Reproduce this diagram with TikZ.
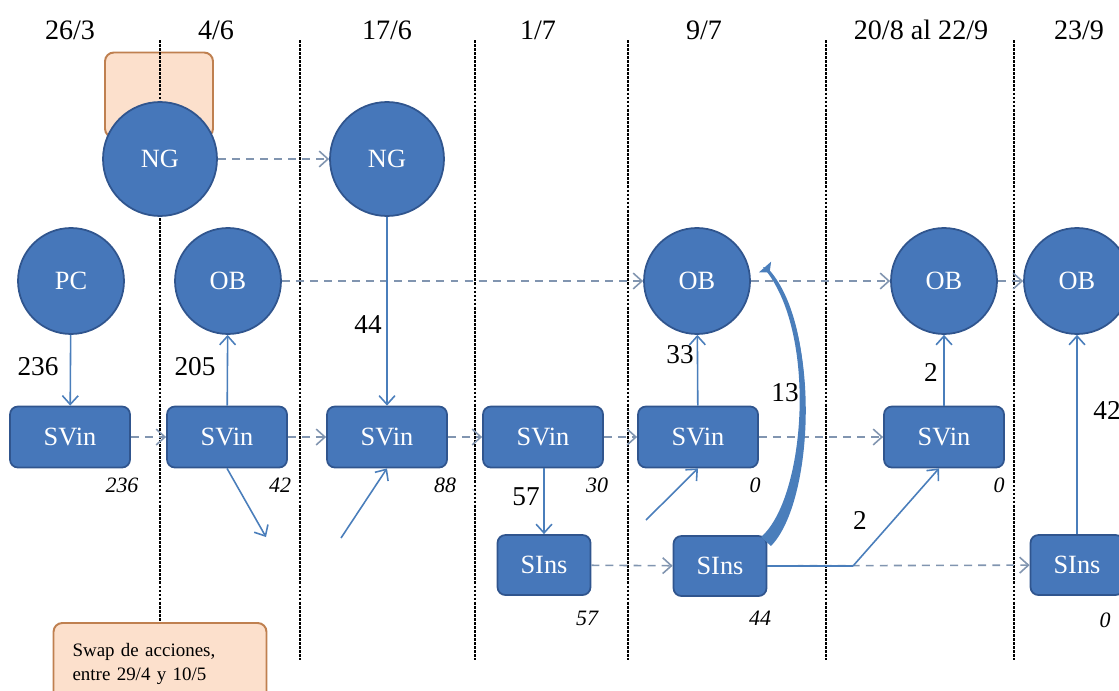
\documentclass[tikz,border=0pt]{standalone}
\usepackage{fontspec}
\setmainfont{Liberation Serif}
\usetikzlibrary{arrows.meta,calc}
\definecolor{nblue}{HTML}{4677BA}
\definecolor{nborder}{HTML}{30558E}
\definecolor{conn}{HTML}{4A7EBB}
\definecolor{dconn}{HTML}{8195B0}
\definecolor{peach}{HTML}{FCE0CC}
\definecolor{peachb}{HTML}{BF8050}
\begin{document}
\begin{tikzpicture}[x=0.02cm,y=-0.02cm,
 circ/.style={circle, fill=nblue, draw=nborder, line width=1pt, minimum size=2.12cm, inner sep=0pt, text=white, font=\fontsize{15}{18}\selectfont},
 bigcirc/.style={circ, minimum size=2.28cm},
 boxn/.style={rectangle, rounded corners=4.5pt, fill=nblue, draw=nborder, line width=1pt, minimum width=2.4cm, minimum height=1.22cm, inner sep=0pt, text=white, font=\fontsize{15}{18}\selectfont},
 sbox/.style={boxn, minimum width=1.86cm, minimum height=1.2cm},
 flow/.style={draw=conn, line width=0.9pt, -{Straight Barb[length=5pt,width=9pt]}},
 dflow/.style={draw=dconn, line width=0.9pt, dash pattern=on 4.5pt off 3.5pt, -{Straight Barb[length=5pt,width=9pt]}},
 sepline/.style={draw=black, line width=0.9pt, dash pattern=on 1.6pt off 0.7pt},
 datelab/.style={font=\fontsize{16}{19}\selectfont},
 lab/.style={font=\fontsize{15.5}{18}\selectfont},
 qty/.style={font=\fontsize{12.5}{15}\selectfont\itshape},
 note/.style={rounded corners=5pt, fill=peach, draw=peachb, line width=1.1pt}
]
\useasboundingbox (0,0) rectangle (1119,690);

% orange note behind NG
\node[note, minimum width=2.16cm, minimum height=1.7cm] (tag) at (159,95) {};

% separators
\draw[sepline] (160,40) -- (160,623);
\draw[sepline] (300,40) -- (300,660);
\draw[sepline] (475,40) -- (475,660);
\draw[sepline] (628,40) -- (628,660);
\draw[sepline] (826,40) -- (826,660);
\draw[sepline] (1014,40) -- (1014,660);

% dates
\node[datelab] (d1) at (70,30) {26/3};
\node[datelab] (d2) at (216,30) {4/6};
\node[datelab] (d3) at (387,30) {17/6};
\node[datelab] (d4) at (538,30) {1/7};
\node[datelab] (d5) at (704,30) {9/7};
\node[datelab] (d6) at (921,30) {20/8 al 22/9};
\node[datelab] (d7) at (1079,30) {23/9};

% nodes
\node[bigcirc] (NG1) at (160,159) {NG};
\node[bigcirc] (NG2) at (387,159) {NG};
\node[circ] (PC) at (71,281) {PC};
\node[circ] (OB1) at (228,281) {OB};
\node[circ] (OB5) at (697,281) {OB};
\node[circ] (OB6) at (944,281) {OB};
\node[circ] (OB7) at (1077,281) {OB};
\node[boxn] (SV1) at (70,437) {SVin};
\node[boxn] (SV2) at (227,437) {SVin};
\node[boxn] (SV3) at (387,437) {SVin};
\node[boxn] (SV4) at (543,437) {SVin};
\node[boxn] (SV5) at (698,437) {SVin};
\node[boxn] (SV6) at (944,437) {SVin};
\node[sbox] (SI1) at (544,565) {SIns};
\node[sbox] (SI2) at (720,566) {SIns};
\node[sbox] (SI3) at (1077,565) {SIns};

% swap note
\node[note, minimum width=4.24cm, minimum height=1.64cm, text width=3.5cm, align=left, inner xsep=0.38cm, font=\fontsize{10.8}{13.2}\selectfont] (swap) at (160,664) {Swap de acciones,\\entre 29/4 y 10/5};

% dashed connectors
\draw[dflow] (NG1) -- (NG2);
\draw[dflow] (OB1) -- (OB5);
\draw[dflow] (OB5) -- (OB6);
\draw[dflow] (OB6) -- (OB7);
\draw[dflow] (SV1) -- (SV2);
\draw[dflow] (SV2) -- (SV3);
\draw[dflow] (SV3) -- (SV4);
\draw[dflow] (SV4) -- (SV5);
\draw[dflow] (SV5) -- (SV6);
\draw[dflow] (SI1) -- (SI2);
\draw[dflow] (SI2) -- (SI3);

% solid connectors
\draw[flow] (PC) -- (SV1);
\draw[flow] (SV2) -- (OB1);
\draw[flow] (NG2) -- (SV3);
\draw[flow] (SV4.south -| SI1) -- (SI1);
\draw[flow] (SV5) -- (OB5);
\draw[flow] (SV6) -- (OB6);
\draw[flow] (SI3) -- (OB7);

\coordinate (e1) at (266,537);
\coordinate (e2) at (341,538);
\coordinate (e3) at (646,520);
\coordinate (j) at (853,566);
\draw[flow] (SV2.south) -- (e1);
\draw[flow] (e2) -- (SV3.south);
\draw[flow] (e3) -- (SV5.south);
\draw[draw=conn, line width=0.9pt] (SI2.east) -- (j);
\draw[flow] (j) -- ([xshift=-0.1cm]SV6.south);
% thick curved return 13 (tapered)
\coordinate (cs) at (SI2.30);
\coordinate (ce) at (765,267);
\fill[conn] (771,546) .. controls (814,502) and (822,330) .. (767,268) -- (763,267) .. controls (818,330) and (806,498) .. (761,537) -- cycle;
\draw[draw=conn, line width=1.5pt, -{Triangle[reversed, length=4pt, width=9pt]}] (cs) .. controls (810,500) and (820,330) .. (ce);

% flow labels
\node[lab] (l236) at (38,367) {236};
\node[lab] (l205) at (195,367) {205};
\node[lab] (l44) at (368,325) {44};
\node[lab] (l57) at (526,497) {57};
\node[lab] (l33) at (680,355) {33};
\node[lab] (l13) at (785,393) {13};
\node[lab] (l2a) at (931,372) {2};
\node[lab] (l2b) at (860,520) {2};
\node[lab] (l42) at (1107,410) {42};

% stock quantities
\node[qty] (q1) at (122,485) {236};
\node[qty] (q2) at (280,485) {42};
\node[qty] (q3) at (445,485) {88};
\node[qty] (q4) at (597,485) {30};
\node[qty] (q5) at (755,485) {0};
\node[qty] (q6) at (999,485) {0};
\node[qty] (q7) at (587,618) {57};
\node[qty] (q8) at (760,618) {44};
\node[qty] (q9) at (1105,620) {0};
\end{tikzpicture}
\end{document}
